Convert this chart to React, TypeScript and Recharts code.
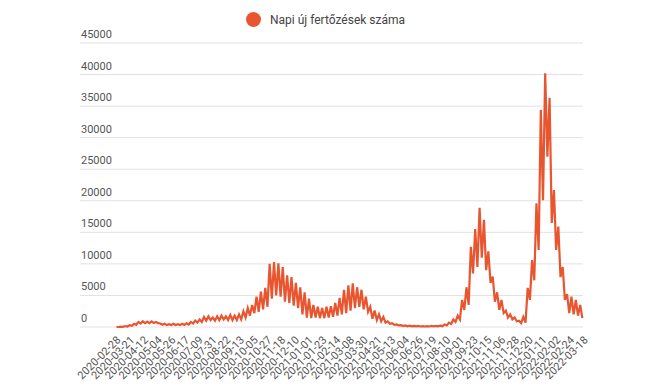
import { LineChart, Line, XAxis, YAxis, CartesianGrid } from 'recharts'

// x tick labels, one every 22 data days
const tickLabels = [
  '2020-02-28', '2020-03-21', '2020-04-12', '2020-05-04', '2020-05-26', '2020-06-17',
  '2020-07-09', '2020-07-31', '2020-08-22', '2020-09-13', '2020-10-05', '2020-10-27',
  '2020-11-18', '2020-12-10', '2021-01-01', '2021-01-23', '2021-02-14', '2021-03-08',
  '2021-03-30', '2021-04-21', '2021-05-13', '2021-06-04', '2021-06-26', '2021-07-19',
  '2021-08-10', '2021-09-01', '2021-09-23', '2021-10-15', '2021-11-06', '2021-11-28',
  '2021-12-20', '2022-01-11', '2022-02-02', '2022-02-24', '2022-03-18',
]

// weekly high (weekday) values, one per week from 2020-02-28
const weekHigh = [
  0, 60, 150, 300, 500,
  800, 900, 850, 900, 800,
  550, 500, 450, 500, 450, 500,
  600, 800, 1000, 1200,
  1600, 1700, 1500, 1700, 1800, 1700,
  1900, 1800, 2000,
  2500, 3000, 3500,
  4800, 5600, 6200,
  10000, 10300, 10100,
  9500, 8200, 7900, 7000,
  6300, 5500, 4500,
  3500, 3200, 3000, 3200, 3300,
  3800, 4600, 5900, 6600, 6900,
  6300, 5900, 4800,
  3200, 2600, 2000, 1600,
  900, 600, 400, 300, 250,
  200, 180, 160, 150, 150, 160, 180, 220,
  400, 700, 1200, 1800,
  4300, 6300,
  12700, 15500, 18900, 17000, 12000, 8000, 5500, 4300,
  2600, 2000, 1500, 1000, 1600,
  6200, 10600, 19600, 34400, 40200, 36300, 21700, 15900, 9500, 5200, 4800, 4300, 3500,
]

// weekly low (weekend) values
const weekLow = [
  0, 30, 80, 200, 350,
  550, 600, 600, 650, 600,
  350, 300, 300, 320, 300, 330,
  400, 550, 700, 800,
  1000, 1100, 1000, 1100, 1200, 1100,
  1100, 1100, 1200,
  1500, 1800, 2200,
  2400, 2800, 3200,
  4500, 5000, 4800,
  4000, 3800, 3400, 3000,
  2000, 1500, 1400,
  1500, 1400, 1400, 1500, 1600,
  1800, 2000, 2200, 2600, 3000,
  3200, 2800, 2400,
  1300, 1100, 900, 700,
  500, 350, 250, 150, 120,
  100, 90, 80, 80, 80, 90, 100, 130,
  250, 500, 800, 1200,
  2700, 3500,
  8500, 9500, 11000, 9000, 7000, 4000, 2700, 2200,
  1500, 1200, 900, 600, 700,
  4300, 7400, 12200, 20100, 27000, 16500, 12200, 7900, 4300, 2200, 2000, 1800, 1400,
]

const yTicks = [0, 5000, 10000, 15000, 20000, 25000, 30000, 35000, 40000, 45000]

const data = weekHigh.flatMap((hi, w) => [
  { day: w * 7 + 1.5, cases: hi },
  { day: w * 7 + 5, cases: weekLow[w] },
])

const tickDays = tickLabels.map((_, i) => i * 22)
const COLOR = '#E8552F'

const XTick = ({ x, y, payload }: any) => {
  const label = tickLabels[tickDays.indexOf(payload.value)] ?? ''
  return (
    <g transform={`translate(${x},${y})`}>
      <text x={0} y={0} dy={8} textAnchor="end" transform="rotate(-45)" fill="#555" fontSize={11}>
        {label}
      </text>
    </g>
  )
}

// y labels sit left-aligned just above their gridline
const YTick = ({ x, y, payload }: any) => (
  <text x={x + 1} y={y - 5} textAnchor="start" fill="#555" fontSize={11}>
    {payload.value}
  </text>
)

export default function App() {
  return (
    <div style={{ position: 'relative', width: 635, height: 377, fontFamily: 'Roboto, sans-serif' }}>
      <div
        style={{
          position: 'absolute', top: 4, left: 0, width: 635,
          display: 'flex', justifyContent: 'center', alignItems: 'center',
          fontSize: 12, color: '#444',
        }}
      >
        <span style={{ width: 15, height: 15, borderRadius: '50%', background: COLOR, marginRight: 9 }} />
        <span>Napi új fertőzések száma</span>
      </div>
      <LineChart width={635} height={377} data={data} margin={{ top: 35, right: 60, left: 0, bottom: 0 }}>
        <CartesianGrid vertical={false} stroke="#e2e2e2" />
        <XAxis
          type="number"
          dataKey="day"
          domain={[-57, 748]}
          ticks={tickDays}
          interval={0}
          height={58}
          axisLine={false}
          tickLine={false}
          tick={<XTick />}
        />
        <YAxis
          domain={[0, 45000]}
          ticks={yTicks}
          width={72}
          tickSize={0}
          tickMargin={0}
          axisLine={false}
          tickLine={false}
          tick={<YTick />}
        />
        <Line
          type="linear"
          dataKey="cases"
          stroke={COLOR}
          strokeWidth={2.2}
          dot={false}
          isAnimationActive={false}
        />
      </LineChart>
    </div>
  )
}
